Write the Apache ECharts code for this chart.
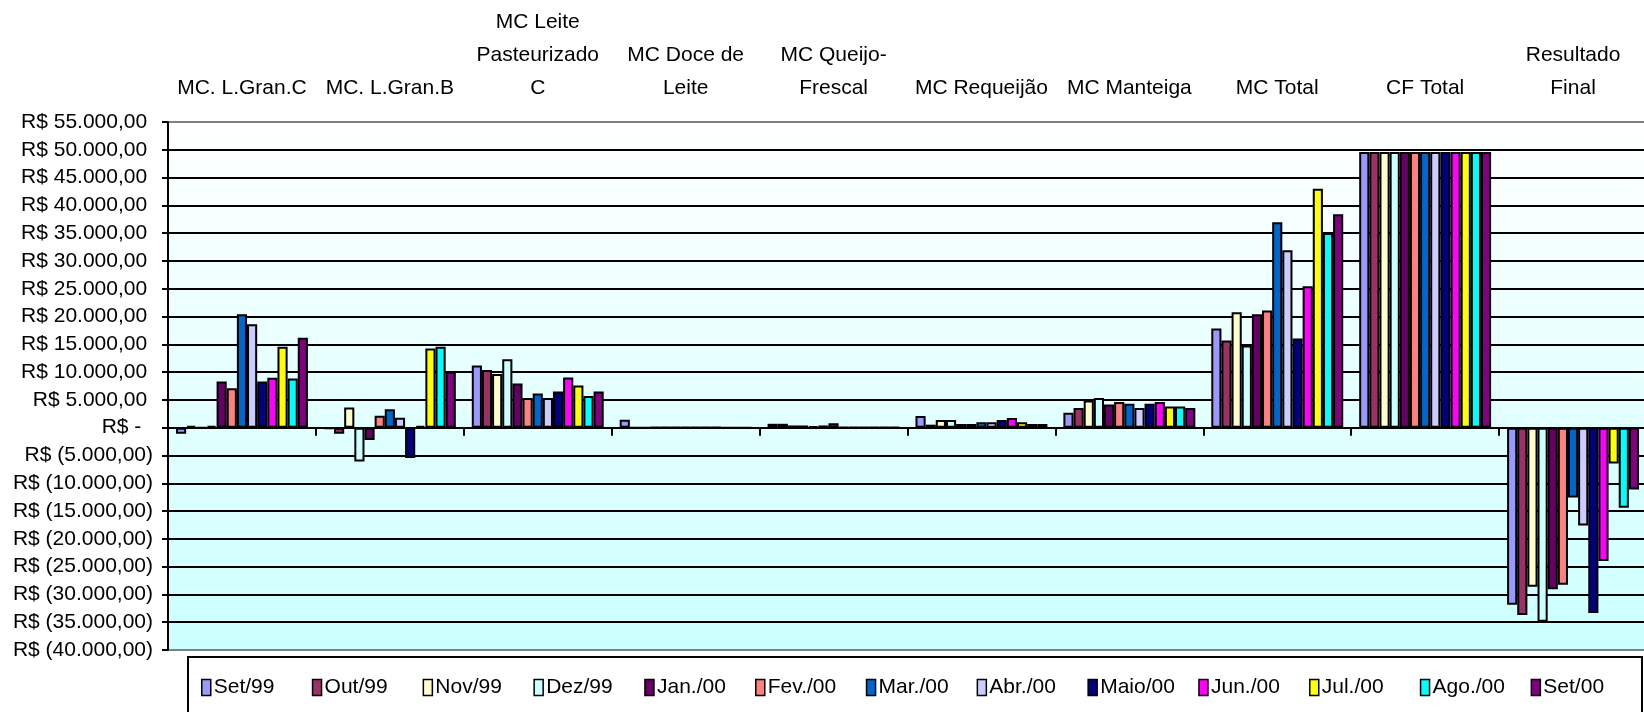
<!DOCTYPE html>
<html>
<head>
<meta charset="utf-8">
<script src="https://cdn.jsdelivr.net/npm/echarts@6/dist/echarts.min.js"></script>
<style>
html,body{margin:0;padding:0;background:#fff;}
#chart{width:1644px;height:712px;}
</style>
</head>
<body>
<div id="chart"></div>
<script>
const categories = ["MC. L.Gran.C","MC. L.Gran.B","MC Leite\nPasteurizado\nC","MC Doce de\nLeite","MC Queijo-\nFrescal","MC Requeijão","MC Manteiga","MC Total","CF Total","Resultado\nFinal"];
const months = ["Set/99","Out/99","Nov/99","Dez/99","Jan./00","Fev./00","Mar./00","Abr./00","Maio/00","Jun./00","Jul./00","Ago./00","Set/00"];

const vSet99 = [-1100, -200, 11200, 1450, 700, 2100, 2700, 17830, 49600, -31850];
const vOut99 = [350, -1100, 10400, 0, 700, 540, 3560, 15670, 49600, -33690];
const vNov99 = [0, 3650, 9650, 0, 400, 1380, 4900, 20770, 49600, -28630];
const vDez99 = [350, -6100, 12300, 60, 400, 1380, 5360, 14800, 49600, -34900];
const vJan00 = [8300, -2200, 7950, 60, 250, 660, 4160, 20410, 49600, -29050];
const vFev00 = [7100, 2150, 5350, 60, 400, 660, 4640, 21070, 49600, -28270];
const vMar00 = [20400, 3300, 6150, 60, 780, 1000, 4300, 36950, 49600, -12560];
const vAbr00 = [18600, 1800, 5350, 60, 100, 1000, 3560, 31920, 49600, -17620];
const vMai00 = [8300, -5450, 6500, 60, 60, 1380, 4300, 16030, 49600, -33330];
const vJun00 = [9000, 350, 9050, 60, 60, 1740, 4640, 25440, 49600, -23990];
const vJul00 = [14550, 14250, 7600, 0, 60, 1000, 3800, 43010, 49600, -6430];
const vAgo00 = [8850, 14550, 5700, 0, 60, 660, 3800, 35040, 49600, -14400];
const vSet00 = [16200, 10050, 6500, 0, 60, 660, 3560, 38390, 49600, -11130];
const seriesValues = [vSet99, vOut99, vNov99, vDez99, vJan00, vFev00, vMar00, vAbr00, vMai00, vJun00, vJul00, vAgo00, vSet00];

const yMin = -40000, yMax = 55000, yStep = 5000;

const colors = ["#9999FF","#993366","#FFFFCC","#CCFFFF","#660066","#FF8080","#0066CC","#CCCCFF","#000080","#FF00FF","#FFFF00","#00FFFF","#800080"];

function fmt(v){
  if (v === 0) return 'R$ -  ';
  const s = String(Math.abs(v)).replace(/\B(?=(\d{3})+(?!\d))/g, '.') + ',00';
  return v < 0 ? 'R$ (' + s + ')' : 'R$ ' + s + ' ';
}

const nLines = Math.round((yMax - yMin) / yStep) + 1;
const splitColors = [];
for (let i = 0; i < nLines; i++) splitColors.push(i === 0 || i === nLines - 1 ? '#808080' : '#000000');

const font = 'Liberation Sans, Arial, sans-serif';

const legends = months.map((m, i) => ({
  data: [m],
  left: 201 + i * 110.8,
  top: 677,
  padding: 0,
  itemWidth: 9,
  itemHeight: 16,
  itemGap: 0,
  icon: 'rect',
  itemStyle: {borderColor: '#000', borderWidth: 1.5},
  textStyle: {fontFamily: font, fontSize: 21, color: '#000', padding: [0,0,0,-2]},
  z: 5
}));

const series = months.map((m, i) => ({
  name: m,
  type: 'bar',
  data: seriesValues[i],
  barGap: '0%',
  barCategoryGap: '10.8%',
  itemStyle: {color: colors[i], borderColor: '#000', borderWidth: 2},
  emphasis: {disabled: true}
}));

const chart = echarts.init(document.getElementById('chart'), null, {renderer: 'canvas'});
chart.setOption({
  animation: false,
  backgroundColor: '#ffffff',
  grid: {
    left: 168, top: 122, width: 1479, height: 528,
    show: true, borderWidth: 0,
    outerBoundsMode: 'none',
    backgroundColor: {type: 'linear', x: 0, y: 0, x2: 0, y2: 1,
      colorStops: [{offset: 0, color: '#FFFFFF'}, {offset: 1, color: '#CCFFFF'}]}
  },
  graphic: [{
    type: 'rect', z: 1,
    shape: {x: 188, y: 657, width: 1454, height: 62},
    style: {fill: '#ffffff', stroke: '#000000', lineWidth: 2}
  }],
  legend: legends,
  xAxis: [{
    type: 'category', data: categories, position: 'bottom',
    axisLine: {show: true, onZero: true, lineStyle: {color: '#000', width: 2}},
    axisTick: {show: true, interval: 0, length: 8, lineStyle: {color: '#000', width: 2}},
    axisLabel: {show: false},
    splitLine: {show: false}
  }, {
    type: 'category', data: categories, position: 'top',
    axisLine: {show: false}, axisTick: {show: false},
    axisLabel: {show: true, interval: 0, fontFamily: font, fontSize: 21, lineHeight: 33, color: '#000', margin: 17},
    splitLine: {show: false}
  }],
  yAxis: {
    type: 'value', min: yMin, max: yMax, interval: yStep,
    axisLine: {show: true, lineStyle: {color: '#000', width: 2}},
    axisTick: {show: true, length: 6, lineStyle: {color: '#000', width: 2}},
    axisLabel: {formatter: fmt, fontFamily: font, fontSize: 21, color: '#000', margin: 15},
    splitLine: {show: true, lineStyle: {color: splitColors, width: 2}}
  },
  series: series
});
</script>
</body>
</html>
